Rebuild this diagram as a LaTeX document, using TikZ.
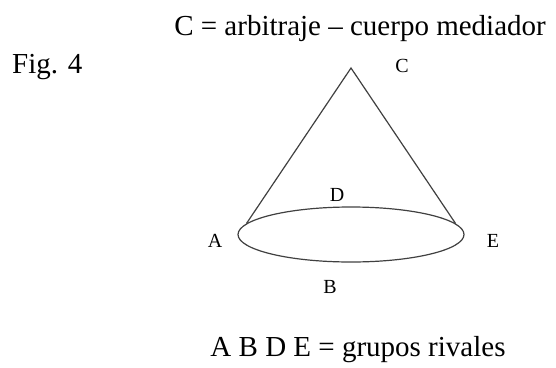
\documentclass[tikz,border=0pt]{standalone}
\usepackage{fontspec}
\setmainfont{Liberation Serif}
\usetikzlibrary{shapes.geometric,positioning}

\begin{document}
\begin{tikzpicture}[
  x=1pt,y=-1pt,
  txt/.style={font=\fontsize{29}{34}\selectfont,inner sep=0pt},
  lbl/.style={font=\fontsize{20}{24}\selectfont,inner sep=0pt},
  conestroke/.style={draw=black!75,line width=1.2pt}
]
  \useasboundingbox (0,0) rectangle (556,367);
  \node[txt,anchor=base] (title) at (360,35) {C = arbitraje – cuerpo mediador};
  \node[txt,anchor=base west] (fig) at (12,73) {Fig. 4};
  % cone
  \coordinate (apex) at (351,68);
  \node[conestroke,ellipse,minimum width=226pt,minimum height=55pt,inner sep=0pt] (base) at (351,234.5) {};
  \draw[conestroke] (base.174) -- (apex) -- (base.6);
  \node[lbl] (c) at (402,66) {C};
  \node[lbl] (d) at (337,195) {D};
  \node[lbl] (a) at (215,241) {A};
  \node[lbl] (e) at (493,241) {E};
  \node[lbl] (b) at (330,287) {B};
  \node[txt,anchor=base] (legend) at (358,356) {A B D E = grupos rivales};
\end{tikzpicture}
\end{document}
